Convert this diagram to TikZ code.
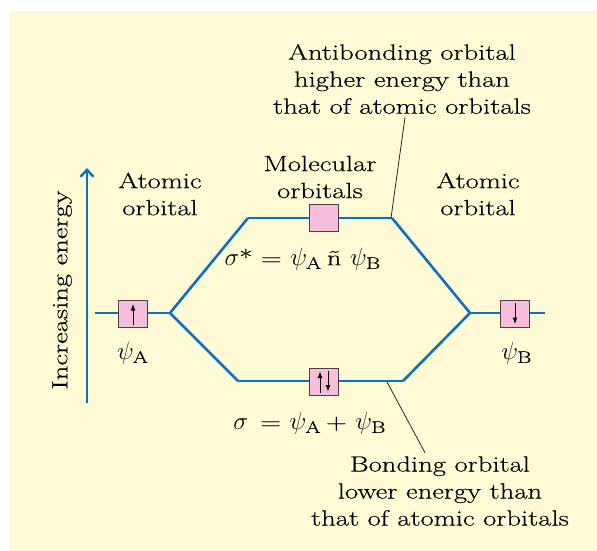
\documentclass[tikz,border=0pt]{standalone}
\usepackage{fontspec}
\setmainfont{Latin Modern Roman}[FakeStretch=1.3,FakeBold=0.3]
\usetikzlibrary{arrows.meta}
\definecolor{bgyellow}{RGB}{255,250,214}
\definecolor{lineblue}{RGB}{16,112,192}
\definecolor{boxpink}{RGB}{246,190,218}
\definecolor{boxedge}{RGB}{80,62,70}
\newcommand{\symbig}[1]{{\fontsize{24}{27}\selectfont$#1$}}
\begin{document}
\begin{tikzpicture}[x=1pt,y=-1pt,
  level/.style={draw=lineblue,line width=2.6pt},
  orbbox/.style={draw=boxedge,fill=boxpink,line width=0.9pt,minimum width=29pt,minimum height=27pt,inner sep=0pt},
  spin/.style={line width=1pt,-{Latex[length=6.5pt,width=5pt]}},
  lbl/.style={font=\fontsize{22}{27}\selectfont,align=center,text=black},
  pointer/.style={draw=black!85,line width=0.8pt}]
\useasboundingbox (0,0) rectangle (597,551);
\fill[bgyellow] (9,11) rectangle (597,551);
% energy axis
\coordinate (ax0) at (87,403);
\coordinate (ax1) at (87,168);
\draw[lineblue,line width=2.4pt,-{Straight Barb[length=7pt,width=13pt,line width=2.4pt]}] (ax0) -- (ax1);
\node[lbl,rotate=90] (energy) at (62,290) {Increasing energy};
% key points
\coordinate (la) at (95,313);
\coordinate (lj) at (170,313);
\coordinate (tl) at (248,218);
\coordinate (tr) at (392,218);
\coordinate (bl) at (238,381);
\coordinate (br) at (403,381);
\coordinate (rj) at (470,313);
\coordinate (rb) at (545,313);
% levels
\draw[level] (la) -- (lj);
\draw[level,line join=miter] (tl) -- (lj) -- (bl);
\draw[level] (tl) -- (tr);
\draw[level] (bl) -- (br);
\draw[level,line join=miter] (tr) -- (rj) -- (br);
\draw[level] (rj) -- (rb);
% boxes
\node[orbbox] (boxA) at (133,314) {};
\node[orbbox] (boxB) at (515,314) {};
\node[orbbox] (boxS) at (323.5,217.5) {};
\node[orbbox] (boxB2) at (324,381.5) {};
\draw[spin] ([yshift=-11pt]boxA.center) -- ([yshift=10pt]boxA.center);
\draw[spin] ([yshift=11pt]boxB.center) -- ([yshift=-10pt]boxB.center);
\draw[spin] ([xshift=-4pt,yshift=-11pt]boxB2.center) -- ([xshift=-4pt,yshift=10pt]boxB2.center);
\draw[spin] ([xshift=4pt,yshift=11pt]boxB2.center) -- ([xshift=4pt,yshift=-10pt]boxB2.center);
% labels
\node[lbl] (psiA) at (131,353) {\symbig{\psi_{\mathrm{A}}}};
\node[lbl] (psiB) at (515,353) {\symbig{\psi_{\mathrm{B}}}};
\node[lbl] (atomL) at (160,194) {Atomic\\orbital};
\node[lbl] (mol) at (320,177) {Molecular\\orbitals};
\node[lbl] (atomR) at (478,194) {Atomic\\orbital};
\node[lbl] (sstar) at (301,259) {\symbig{\sigma}* = \symbig{\psi_{\mathrm{A}}} ñ \symbig{\psi_{\mathrm{B}}}};
\node[lbl] (sig) at (308,423) {\symbig{\sigma}\, = \symbig{\psi_{\mathrm{A}}} + \symbig{\psi_{\mathrm{B}}}};
\node[lbl] (anti) at (402,79) {Antibonding orbital\\higher energy than\\that of atomic orbitals};
\node[lbl] (bond) at (440,491) {Bonding orbital\\lower energy than\\that of atomic orbitals};
% pointers
\coordinate (pt1) at (391,218);
\coordinate (pt2) at (387,382);
\draw[pointer] (pt1) -- (anti.south -| 405,0);
\draw[pointer] (pt2) -- (bond.north -| 425,0);
\end{tikzpicture}
\end{document}
